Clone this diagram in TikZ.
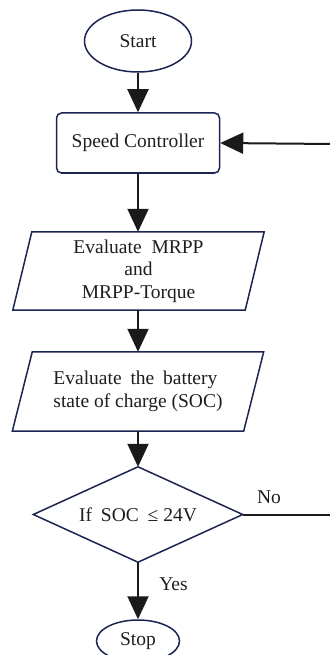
\documentclass[tikz,border=0pt]{standalone}
\usepackage{fontspec}
\setmainfont{Liberation Serif}
\usetikzlibrary{shapes.geometric,arrows.meta,calc}
\definecolor{navy}{HTML}{1C2452}
\definecolor{ink}{HTML}{1E1E1E}
\definecolor{arr}{HTML}{1A1A1A}
\begin{document}
\begin{tikzpicture}[x=1pt,y=1pt,
  every node/.style={font=\fontsize{19.5}{22.5}\selectfont, text=ink},
  shp/.style={draw=navy, line width=1.5pt, inner sep=0pt},
  outline/.style={draw=navy, line width=1.5pt, line join=miter},
  term/.style={shp, ellipse},
  procbox/.style={shp, rectangle, rounded corners=5pt},
  frame/.style={rectangle, inner sep=0pt},
  flow/.style={draw=arr, line width=2pt, -{Triangle[length=23pt,width=21pt]}},
  plain/.style={draw=arr, line width=2pt}]
\useasboundingbox (0,0) rectangle (329,-655);
\node[term, minimum width=107pt, minimum height=62pt] (start) at (138,-41) {Start};
\node[procbox, minimum width=163pt, minimum height=60pt] (speed) at (138,-143) {Speed Controller};
\node[frame, align=center, minimum width=232pt, minimum height=78pt] (p1) at (138.5,-271) {Evaluate\hspace{5pt} MRPP\\and\\MRPP-Torque};
\draw[outline] ($(p1.north west)+(9.5,0)$) -- ($(p1.north east)+(9.5,0)$) -- ($(p1.south east)+(-9.5,0)$) -- ($(p1.south west)+(-9.5,0)$) -- cycle;
\node[frame, align=left, minimum width=231pt, minimum height=79pt] (p2) at (138,-391.5) {Evaluate\hspace{4pt} the\hspace{4pt} battery\\state of charge (SOC)};
\draw[outline] ($(p2.north west)+(10,0)$) -- ($(p2.north east)+(10,0)$) -- ($(p2.south east)+(-10,0)$) -- ($(p2.south west)+(-10,0)$) -- cycle;
\node[frame, minimum width=209pt, minimum height=95pt] (dec) at (138,-514.5) {If\hspace{4pt} SOC\hspace{4pt} ≤ 24V};
\draw[outline] (dec.north) -- (dec.east) -- (dec.south) -- (dec.west) -- cycle;
\node[term, minimum width=83pt, minimum height=42pt] (stop) at (138,-641) {Stop};
\node (no) at (269,-497) {No};
\node (yes) at (173.5,-584) {Yes};
\coordinate (c1) at (332,-514.5);
\coordinate (c2) at (332,-144);
\draw[flow] (start.south) -- (speed.north);
\draw[flow] (speed.south) -- (speed.south |- p1.north);
\draw[flow] (speed.south |- p1.south) -- (p2.north);
\draw[flow] (p2.south) -- (dec.north);
\draw[flow] (dec.south) -- (stop.north);
\draw[plain] (dec.east) -- (c1) -- (c2);
\draw[flow] (c2) -- (speed.east);
\end{tikzpicture}
\end{document}
